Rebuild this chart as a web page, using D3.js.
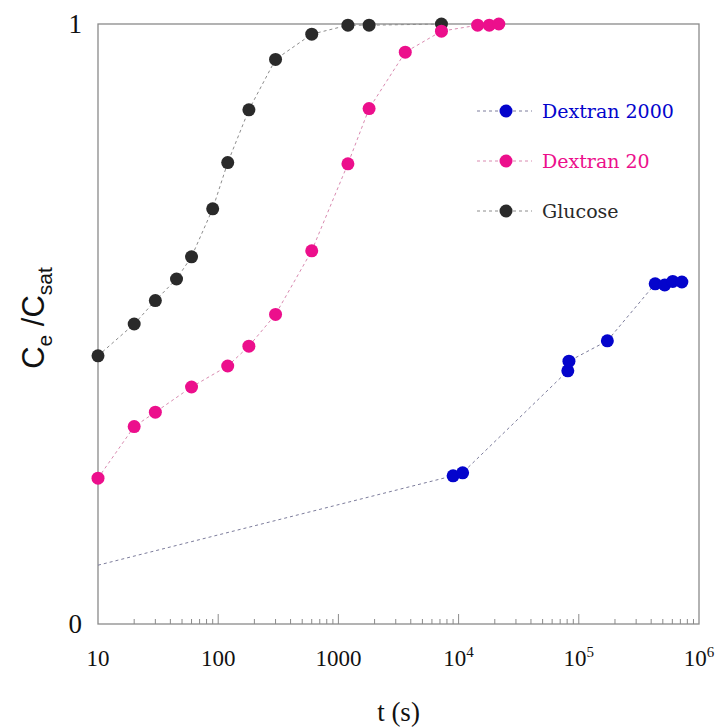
<!DOCTYPE html>
<html><head><meta charset="utf-8">
<script src="https://cdn.jsdelivr.net/npm/d3@7"></script>
<style>body{margin:0;background:#fff}</style>
</head><body>
<script>
// ---- data ----
const glucoseT = [10, 20, 30, 45, 60, 90, 120, 180, 300, 600, 1200, 1800, 7200];
const glucoseY = [0.447, 0.500, 0.539, 0.575, 0.612, 0.692, 0.769, 0.857, 0.941, 0.983, 0.998, 0.998, 1.0];
const dex20T = [10, 20, 30, 60, 120, 180, 300, 600, 1200, 1800, 3600, 7200, 14400, 18000, 21600];
const dex20Y = [0.243, 0.329, 0.353, 0.395, 0.430, 0.463, 0.516, 0.622, 0.767, 0.859, 0.953, 0.988, 0.998, 0.998, 1.0];
const dex2000T = [10, 9000, 10800, 81000, 82800, 172800, 432000, 518400, 604800, 720000];
const dex2000Y = [0.098, 0.247, 0.252, 0.422, 0.438, 0.472, 0.567, 0.565, 0.571, 0.570];
const dex2000Marked = [false, true, true, true, true, true, true, true, true, true];
const seriesNames = ["Dextran 2000", "Dextran 20", "Glucose"];
const xTickValues = [10, 100, 1000, 10000, 100000, 1000000];
const xTickLabels = ["10", "100", "1000", "10^4", "10^5", "10^6"];
const yTickValues = [0, 1];
const yTickLabels = ["0", "1"];

const W = 717, H = 727;
const m = {left: 98, top: 24, right: 18, bottom: 103};
const iw = W - m.left - m.right, ih = H - m.top - m.bottom;

const svg = d3.select("body").append("svg").attr("width", W).attr("height", H);
const g = svg.append("g").attr("transform", `translate(${m.left},${m.top})`);

const x = d3.scaleLog().domain([10, 1e6]).range([0, iw]);
const y = d3.scaleLinear().domain([0, 1]).range([ih, 0]);

const axisColor = "#8a8a8a";
const serif = "'Liberation Serif', 'Times New Roman', serif";
const legendFont = "'DejaVu Serif', serif";

// frame
g.append("rect").attr("x", 0).attr("y", 0).attr("width", iw).attr("height", ih)
  .attr("fill", "none").attr("stroke", axisColor).attr("stroke-width", 1.3);

// minor + major ticks, inward
const minor = [];
for (let d = 1; d <= 5; d++) for (let k = 2; k <= 9; k++) minor.push(k * Math.pow(10, d));
g.selectAll(".minor").data(minor).join("line")
  .attr("x1", d => x(d)).attr("x2", d => x(d)).attr("y1", ih).attr("y2", ih - 5)
  .attr("stroke", axisColor).attr("stroke-width", 1);
g.selectAll(".major").data(xTickValues.slice(1, -1)).join("line")
  .attr("x1", d => x(d)).attr("x2", d => x(d)).attr("y1", ih).attr("y2", ih - 10)
  .attr("stroke", axisColor).attr("stroke-width", 1);

// x tick labels
xTickValues.forEach((v, i) => {
  const lab = xTickLabels[i];
  const t = g.append("text").attr("x", x(v)).attr("y", ih + 42)
    .attr("text-anchor", "middle").attr("font-family", serif).attr("font-size", 23).attr("fill", "#111");
  if (lab.includes("^")) {
    const [b, e] = lab.split("^");
    t.append("tspan").text(b);
    t.append("tspan").attr("dy", -9).attr("font-size", 15).text(e);
  } else t.text(lab);
});
// y tick labels
yTickValues.forEach((v, i) => {
  g.append("text").attr("x", -16).attr("y", y(v) + 9)
    .attr("text-anchor", "end").attr("font-family", serif).attr("font-size", 27).attr("fill", "#111")
    .text(yTickLabels[i]);
});

// axis titles
svg.append("text").attr("x", m.left + iw / 2).attr("y", H - 6).attr("text-anchor", "middle")
  .attr("font-family", serif).attr("font-size", 27).attr("fill", "#111").text("t (s)");
const yt = svg.append("text").attr("transform", `translate(44,${m.top + ih / 2 - 6}) rotate(-90)`)
  .attr("text-anchor", "middle").attr("font-family", "'Liberation Sans', Arial, sans-serif")
  .attr("font-size", 31).attr("fill", "#111");
yt.append("tspan").text("C");
yt.append("tspan").attr("font-size", 21).attr("dy", 8).text("e");
yt.append("tspan").attr("dy", -8).text(" /C");
yt.append("tspan").attr("font-size", 21).attr("dy", 8).text("sat");

// series
const series = [
  {name: seriesNames[0], t: dex2000T, v: dex2000Y, mk: dex2000Marked, color: "#0404cc", line: "#7d7d9c"},
  {name: seriesNames[1], t: dex20T, v: dex20Y, mk: null, color: "#ec0f8c", line: "#d98ab0"},
  {name: seriesNames[2], t: glucoseT, v: glucoseY, mk: null, color: "#2a2a2a", line: "#8c8c8c"}
];
const line = d3.line().x(d => x(d[0])).y(d => y(d[1]));
series.slice().reverse().forEach(s => {
  const pts = s.t.map((t, i) => [t, s.v[i], s.mk ? s.mk[i] : true]);
  g.append("path").datum(pts).attr("d", line).attr("fill", "none")
    .attr("stroke", s.line).attr("stroke-width", 1).attr("stroke-dasharray", "3,3");
});
series.slice().reverse().forEach(s => {
  const pts = s.t.map((t, i) => [t, s.v[i], s.mk ? s.mk[i] : true]).filter(d => d[2]);
  g.selectAll(null).data(pts).join("circle")
    .attr("cx", d => x(d[0])).attr("cy", d => y(d[1])).attr("r", 6.5).attr("fill", s.color);
});

// legend
series.forEach((s, i) => {
  const ly = 111 + i * 50;
  svg.append("line").attr("x1", 477).attr("x2", 532).attr("y1", ly).attr("y2", ly)
    .attr("stroke", s.line).attr("stroke-width", 1).attr("stroke-dasharray", "3,3");
  svg.append("circle").attr("cx", 506).attr("cy", ly).attr("r", 6.5).attr("fill", s.color);
  svg.append("text").attr("x", 542).attr("y", ly + 7).attr("font-family", legendFont)
    .attr("font-size", 19).attr("fill", s.color).text(s.name);
});
</script>
</body></html>
